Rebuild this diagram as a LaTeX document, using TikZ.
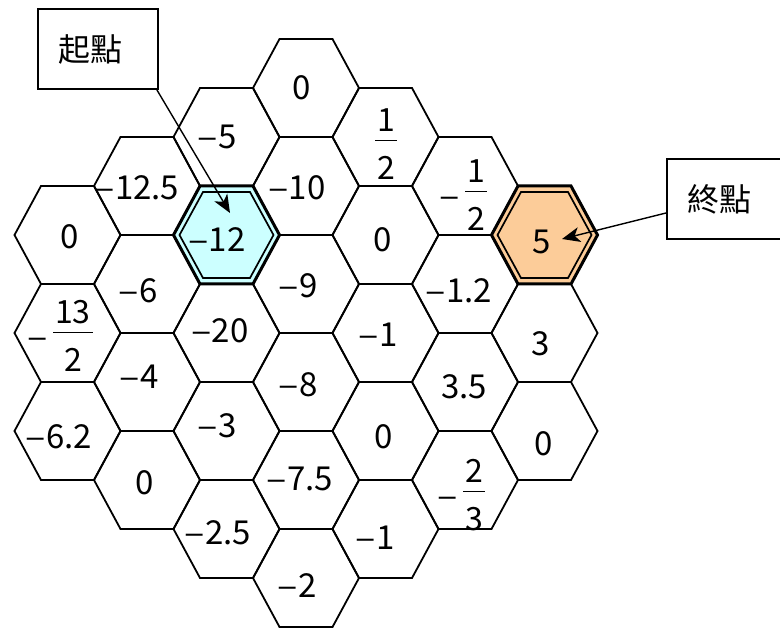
\documentclass[tikz,border=0pt]{standalone}
\usepackage{fontspec}
\usepackage{graphicx}
\setmainfont{Noto Sans CJK TC}
\usetikzlibrary{arrows.meta, calc}
\definecolor{inician}{RGB}{204,255,255}
\definecolor{finnaranja}{RGB}{252,204,153}
% signo menos y fraccion apilada
\newcommand{\m}{\scalebox{1.15}[1]{–}}
\newcommand{\fr}[2]{{\fontsize{16}{18}\selectfont\setlength{\arrayrulewidth}{0.7pt}%
  \begin{tabular}[c]{@{\hspace{1pt}}c@{\hspace{1pt}}}#1\\[-1pt]\hline\rule{0pt}{19pt}#2\end{tabular}}}
% contorno de una celda (x, y del centro)
\newcommand{\celda}[2]{(#1-53,#2) -- (#1-26.5,#2-49) -- (#1+26.5,#2-49) -- (#1+53,#2) -- (#1+26.5,#2+49) -- (#1-26.5,#2+49) -- cycle}
\newcommand{\celdain}[2]{(#1-47,#2) -- (#1-23.5,#2-43) -- (#1+23.5,#2-43) -- (#1+47,#2) -- (#1+23.5,#2+43) -- (#1-23.5,#2+43) -- cycle}

\begin{document}
\begin{tikzpicture}[x=0.5pt, y=-0.5pt, >={Stealth[length=9pt, width=7.5pt, inset=2.5pt]},
    rejilla/.style={draw, line width=0.9pt},
    valor/.style={font=\fontsize{16.5}{20}\selectfont, inner sep=0pt},
    caja/.style={draw, line width=0.9pt, fill=white, font=\fontsize{16}{19}\selectfont,
      minimum height=40pt, text width=40pt, inner xsep=10pt, align=left},
    flecha/.style={->, line width=0.7pt}]
  \useasboundingbox (0,0) rectangle (780,630);
  % Rejilla hexagonal
  \foreach \c/\n in {0/3, 1/4, 2/5, 3/6, 4/5, 5/4, 6/3} {
    \foreach \r in {1,...,\n} {
      \pgfmathsetmacro{\cx}{67.5+79.5*\c}
      \pgfmathsetmacro{\cy}{88+49*abs(\c-3)+98*(\r-1)}
      \draw[rejilla] \celda{\cx}{\cy};
    }
  }
  % Celda inicial
  \fill[inician] \celda{226.5}{235};
  \draw[line width=1.5pt] \celda{226.5}{235};
  \draw[line width=0.85pt] \celdain{226.5}{235};
  % Celda final
  \fill[finnaranja] \celda{544.5}{235};
  \draw[line width=1.5pt] \celda{544.5}{235};
  \draw[line width=0.85pt] \celdain{544.5}{235};
  % Valores
  \foreach \x/\y/\t [count=\i] in {
      70/237/0, 60/340/{\m\,\fr{13}{2}}, 59/437/{\m6.2},
      137/188/{\m12.5}, 138/291/{\m6}, 139/377/{\m4}, 145/483/0,
      217/137/{\m5}, 217/240/{\m12}, 220/331/{\m20}, 217/426/{\m3}, 218/533/{\m2.5},
      302/88/0, 297/188/{\m10}, 298/286/{\m9}, 298/385/{\m8}, 300/479/{\m7.5}, 297/586/{\m2},
      386/148/{\fr{1}{2}}, 383/240/0, 378/335/{\m1}, 384/437/0, 375/538/{\m1},
      463/199/{\m\,\fr{1}{2}}, 459/291/{\m1.2}, 464/387/3.5, 461/499/{\m\,\fr{2}{3}},
      542/242/5, 541/344/3, 544/444/0}
    \node[valor] (v\i) at (\x,\y) {\t};
  % Cajas de texto
  \node[caja] (qi) at (98,49) {起點};
  \node[caja] (zd) at (727,199) {終點};
  \coordinate (ini) at (230,213);
  \coordinate (fin) at (562,239);
  \draw[flecha] ([xshift=-1pt]qi.south east) -- (ini);
  \draw[flecha] ([yshift=-7pt]zd.west) -- (fin);
\end{tikzpicture}
\end{document}
